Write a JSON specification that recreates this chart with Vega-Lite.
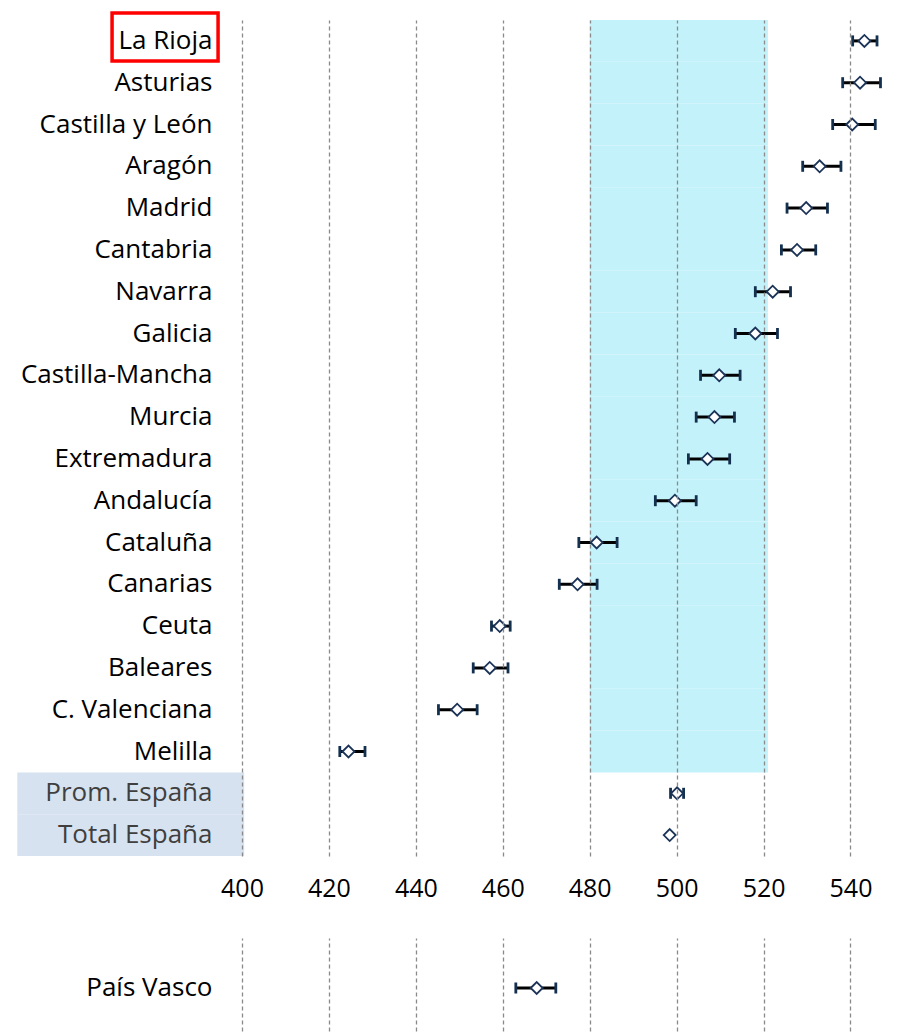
{
  "$schema": "https://vega.github.io/schema/vega-lite/v6.json",
  "padding": {"left": 17, "top": 5, "right": 0, "bottom": 0},
  "background": "white",
  "spacing": 37,
  "resolve": {"scale": {"y": "independent", "x": "independent"}},
  "config": {
    "view": {"stroke": null},
    "font": "Open Sans",
    "axisX": {
      "domain": false, "ticks": false, "grid": true,
      "gridColor": "#8a8a8a", "gridDash": [4, 3], "gridWidth": 1.3,
      "labelFont": "Open Sans", "labelFontSize": 25, "labelColor": "#000000",
      "labelPadding": 20, "labelFlush": false, "title": null
    },
    "axisY": {
      "domain": false, "ticks": false, "grid": false,
      "labelFont": "Open Sans", "labelFontSize": 26, "labelPadding": 30,
      "labelLimit": 400, "title": null
    }
  },
  "datasets": {
    "main": [
      {"region": "La Rioja", "grp": "r", "score": 543.2, "lo": 540.5, "hi": 546.1},
      {"region": "Asturias", "grp": "r", "score": 542.2, "lo": 538.2, "hi": 546.9},
      {"region": "Castilla y León", "grp": "r", "score": 540.4, "lo": 535.9, "hi": 545.7},
      {"region": "Aragón", "grp": "r", "score": 532.9, "lo": 529.0, "hi": 537.8},
      {"region": "Madrid", "grp": "r", "score": 529.8, "lo": 525.4, "hi": 534.7},
      {"region": "Cantabria", "grp": "r", "score": 527.7, "lo": 524.1, "hi": 532.0},
      {"region": "Navarra", "grp": "r", "score": 522.1, "lo": 518.1, "hi": 526.2},
      {"region": "Galicia", "grp": "r", "score": 518.1, "lo": 513.5, "hi": 523.2},
      {"region": "Castilla-Mancha", "grp": "r", "score": 509.8, "lo": 505.5, "hi": 514.6},
      {"region": "Murcia", "grp": "r", "score": 508.7, "lo": 504.5, "hi": 513.3},
      {"region": "Extremadura", "grp": "r", "score": 507.1, "lo": 502.7, "hi": 512.2},
      {"region": "Andalucía", "grp": "r", "score": 499.6, "lo": 495.1, "hi": 504.5},
      {"region": "Cataluña", "grp": "r", "score": 481.6, "lo": 477.5, "hi": 486.3},
      {"region": "Canarias", "grp": "r", "score": 477.2, "lo": 473.0, "hi": 481.7},
      {"region": "Ceuta", "grp": "r", "score": 459.3, "lo": 457.4, "hi": 461.7},
      {"region": "Baleares", "grp": "r", "score": 457.0, "lo": 453.2, "hi": 461.2},
      {"region": "C. Valenciana", "grp": "r", "score": 449.5, "lo": 445.2, "hi": 454.1},
      {"region": "Melilla", "grp": "r", "score": 424.5, "lo": 422.5, "hi": 428.3},
      {"region": "Prom. España", "grp": "s", "score": 500.1, "lo": 498.6, "hi": 501.6},
      {"region": "Total España", "grp": "s", "score": 498.4, "lo": null, "hi": null}
    ],
    "pv": [
      {"region": "País Vasco", "grp": "p", "score": 467.8, "lo": 463.0, "hi": 472.2}
    ]
  },
  "vconcat": [
    {
      "width": 665,
      "height": 836,
      "data": {"name": "main"},
      "encoding": {
        "y": {"field": "region", "type": "nominal", "sort": null, "title": null,
              "scale": {"paddingInner": 0, "paddingOuter": 0},
              "axis": {"zindex": 2,
                       "labelColor": {"expr": "datum.value == 'Prom. España' || datum.value == 'Total España' ? '#3f3f3f' : '#000000'"}}}
      },
      "layer": [
        {
          "transform": [{"filter": "datum.grp == 'r'"}],
          "mark": {"type": "rect", "fill": "#c4f2fb", "stroke": null},
          "encoding": {
            "x": {"datum": 480, "type": "quantitative", "title": null,
                  "scale": {"domain": [400, 553], "nice": false, "zero": false},
                  "axis": {"values": [400, 420, 440, 460, 480, 500, 520, 540], "zindex": 1}},
            "x2": {"datum": 521}
          }
        },
        {
          "transform": [{"filter": "datum.grp == 's'"}],
          "mark": {"type": "rect", "fill": "#d6e2f0", "stroke": null, "clip": false},
          "encoding": {
            "x": {"datum": 348.3, "type": "quantitative", "title": null},
            "x2": {"datum": 400.5}
          }
        },
        {
          "transform": [{"filter": "datum.region == 'La Rioja'"}],
          "mark": {"type": "point", "shape": "M-1,-0.453L1,-0.453L1,0.453L-1,0.453Z",
                   "size": 11236, "filled": false, "stroke": "#ff0000", "strokeWidth": 3.5,
                   "opacity": 1, "clip": false, "yOffset": -4},
          "encoding": {
            "x": {"datum": 382.3, "type": "quantitative", "title": null}
          }
        },
        {
          "transform": [{"filter": "isValid(datum.lo)"}],
          "mark": {"type": "rule", "color": "#000000", "strokeWidth": 3},
          "encoding": {
            "x": {"field": "lo", "type": "quantitative", "title": null},
            "x2": {"field": "hi"}
          }
        },
        {
          "transform": [{"filter": "isValid(datum.lo)"}],
          "mark": {"type": "tick", "color": "#14304f", "thickness": 2.8, "size": 11, "opacity": 1},
          "encoding": {
            "x": {"field": "lo", "type": "quantitative", "title": null}
          }
        },
        {
          "transform": [{"filter": "isValid(datum.hi)"}],
          "mark": {"type": "tick", "color": "#14304f", "thickness": 2.8, "size": 11, "opacity": 1},
          "encoding": {
            "x": {"field": "hi", "type": "quantitative", "title": null}
          }
        },
        {
          "mark": {"type": "point", "shape": "diamond", "size": 144, "filled": true,
                   "fill": "#ffffff", "stroke": "#1c3358", "strokeWidth": 1.8, "opacity": 1},
          "encoding": {
            "x": {"field": "score", "type": "quantitative", "title": null}
          }
        }
      ]
    },
    {
      "width": 665,
      "height": 100,
      "data": {"name": "pv"},
      "encoding": {
        "y": {"field": "region", "type": "nominal", "sort": null, "title": null,
              "scale": {"paddingInner": 0, "paddingOuter": 0}}
      },
      "layer": [
        {
          "mark": {"type": "rule", "color": "#000000", "strokeWidth": 3},
          "encoding": {
            "x": {"field": "lo", "type": "quantitative", "title": null,
                  "scale": {"domain": [400, 553], "nice": false, "zero": false},
                  "axis": {"labels": false, "values": [400, 420, 440, 460, 480, 500, 520, 540]}},
            "x2": {"field": "hi"}
          }
        },
        {
          "mark": {"type": "tick", "color": "#14304f", "thickness": 2.8, "size": 11, "opacity": 1},
          "encoding": {
            "x": {"field": "lo", "type": "quantitative", "title": null}
          }
        },
        {
          "mark": {"type": "tick", "color": "#14304f", "thickness": 2.8, "size": 11, "opacity": 1},
          "encoding": {
            "x": {"field": "hi", "type": "quantitative", "title": null}
          }
        },
        {
          "mark": {"type": "point", "shape": "diamond", "size": 144, "filled": true,
                   "fill": "#ffffff", "stroke": "#1c3358", "strokeWidth": 1.8, "opacity": 1},
          "encoding": {
            "x": {"field": "score", "type": "quantitative", "title": null}
          }
        }
      ]
    }
  ]
}
